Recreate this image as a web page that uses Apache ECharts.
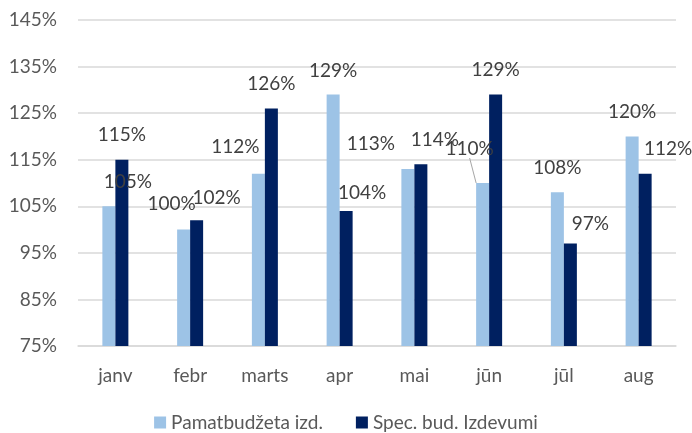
<!DOCTYPE html>
<html>
<head>
<meta charset="utf-8">
<script src="https://cdn.jsdelivr.net/npm/echarts@6/dist/echarts.min.js"></script>
<style>html,body{margin:0;padding:0;background:#fff}#c{width:692px;height:433px}</style>
</head>
<body>
<div id="c"></div>
<script>
const categories = ['janv', 'febr', 'marts', 'apr', 'mai', 'jūn', 'jūl', 'aug'];
const seriesNames = ['Pamatbudžeta izd.', 'Spec. bud. Izdevumi'];
const pamatValues = [105, 100, 112, 129, 113, 110, 108, 120];
const specValues = [115, 102, 126, 104, 114, 129, 97, 112];
const yTicks = { min: 75, max: 145, interval: 10 };

// label nudges (px) mimicking the manual label placement of the original
const pamatLabelDx = [19, -12, -23, 0, -37, -13, 0, 0];
const pamatLabelDy = [0, -1, -2, 1, -1, -10, 0, 0];
const specLabelDx = [0, 20, 0, 16, 14, 0, 20, 23];
const specLabelDy = [0, 2, 0, 6, 0, 0, 5, 0];
const leaderLineCats = ['jūn'];

const FONT = 'Lato';
const TXT = '#404040';
const AXT = '#595959';

const chart = echarts.init(document.getElementById('c'), null, { renderer: 'canvas' });

function mkData(vals, sIdx) {
  return vals.map((v, i) => {
    if (sIdx === 0 && leaderLineCats.includes(categories[i])) {
      return { value: v, labelLine: { show: true, lineStyle: { color: '#a6a6a6', width: 1 } } };
    }
    return v;
  });
}

const labelCfg = {
  show: true,
  position: 'top',
  distance: 15,
  formatter: '{c}%',
  color: TXT,
  fontFamily: FONT,
  fontSize: 19
};

chart.setOption({
  animation: false,
  backgroundColor: '#fff',
  textStyle: { fontFamily: FONT },
  grid: { left: 78, right: 16, top: 20, bottom: 87 },
  legend: {
    top: 408,
    left: 'center',
    icon: 'rect',
    itemWidth: 12,
    itemHeight: 12,
    itemGap: 33,
    textStyle: { color: AXT, fontFamily: FONT, fontSize: 19 },
    data: seriesNames
  },
  xAxis: {
    type: 'category',
    data: categories,
    axisLine: { show: true, lineStyle: { color: '#d9d9d9', width: 1.5 } },
    axisTick: { show: false },
    axisLabel: { color: AXT, fontFamily: FONT, fontSize: 19, margin: 20 }
  },
  yAxis: {
    type: 'value',
    min: yTicks.min,
    max: yTicks.max,
    interval: yTicks.interval,
    axisLine: { show: false },
    axisTick: { show: false },
    splitLine: { lineStyle: { color: '#d9d9d9', width: 1.5 } },
    axisLabel: { color: AXT, fontFamily: FONT, fontSize: 19, margin: 21, formatter: '{value}%' }
  },
  series: [
    {
      name: seriesNames[0],
      type: 'bar',
      data: mkData(pamatValues, 0),
      barWidth: 13,
      barGap: '0%',
      itemStyle: { color: '#9DC3E6' },
      label: labelCfg,
      labelLayout: p => ({ dx: pamatLabelDx[p.dataIndex], dy: pamatLabelDy[p.dataIndex] })
    },
    {
      name: seriesNames[1],
      type: 'bar',
      data: mkData(specValues, 1),
      barWidth: 13,
      barGap: '0%',
      itemStyle: { color: '#002060' },
      label: labelCfg,
      labelLayout: p => ({ dx: specLabelDx[p.dataIndex], dy: specLabelDy[p.dataIndex] })
    }
  ]
});
</script>
</body>
</html>
